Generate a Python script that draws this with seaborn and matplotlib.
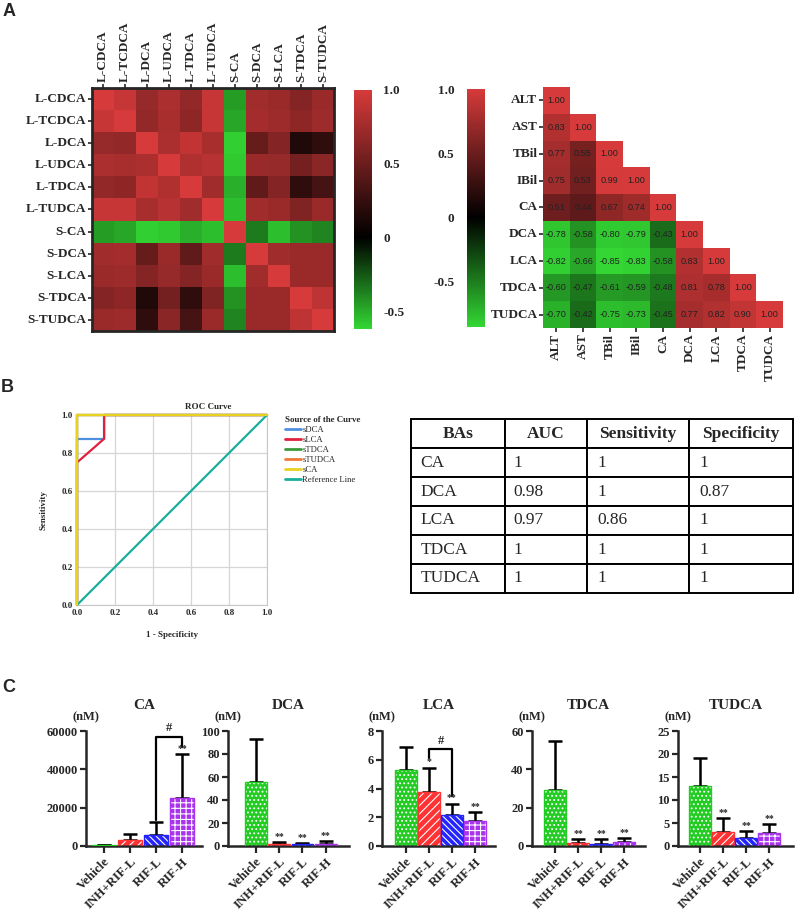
import numpy as np
import pandas as pd
import matplotlib
matplotlib.use("Agg")
import matplotlib.pyplot as plt
import seaborn as sns
from matplotlib.colors import LinearSegmentedColormap

# ---------------- data ----------------
# panel A left: liver (L-) / serum (S-) bile acid correlations
ba_labels = ["L-CDCA", "L-TCDCA", "L-DCA", "L-UDCA", "L-TDCA", "L-TUDCA",
             "S-CA", "S-DCA", "S-LCA", "S-TDCA", "S-TUDCA"]
ba_corr = [
    [1.00, 0.93, 0.70, 0.80, 0.68, 0.92, -0.45, 0.75, 0.72, 0.62, 0.72],
    [0.93, 1.00, 0.68, 0.78, 0.66, 0.93, -0.48, 0.76, 0.73, 0.66, 0.74],
    [0.70, 0.68, 1.00, 0.80, 0.90, 0.78, -0.60, 0.48, 0.62, 0.15, 0.22],
    [0.80, 0.78, 0.80, 1.00, 0.82, 0.85, -0.58, 0.72, 0.70, 0.55, 0.65],
    [0.68, 0.66, 0.90, 0.82, 1.00, 0.75, -0.50, 0.45, 0.62, 0.22, 0.32],
    [0.92, 0.93, 0.78, 0.85, 0.75, 1.00, -0.55, 0.75, 0.72, 0.60, 0.72],
    [-0.45, -0.48, -0.60, -0.58, -0.50, -0.55, 1.00, -0.35, -0.55, -0.42, -0.38],
    [0.75, 0.76, 0.48, 0.72, 0.45, 0.75, -0.35, 1.00, 0.75, 0.72, 0.72],
    [0.72, 0.73, 0.62, 0.70, 0.62, 0.72, -0.55, 0.75, 1.00, 0.72, 0.72],
    [0.62, 0.66, 0.15, 0.55, 0.22, 0.60, -0.42, 0.72, 0.72, 1.00, 0.88],
    [0.72, 0.74, 0.22, 0.65, 0.32, 0.72, -0.38, 0.72, 0.72, 0.88, 1.00],
]

# panel A right: clinical markers vs serum bile acids (lower triangle)
clin_labels = ["ALT", "AST", "TBil", "IBil", "CA", "DCA", "LCA", "TDCA", "TUDCA"]
clin_lower = [
    [1.00],
    [0.83, 1.00],
    [0.77, 0.55, 1.00],
    [0.75, 0.53, 0.99, 1.00],
    [0.51, 0.44, 0.67, 0.74, 1.00],
    [-0.78, -0.58, -0.80, -0.79, -0.43, 1.00],
    [-0.82, -0.66, -0.85, -0.83, -0.58, 0.83, 1.00],
    [-0.60, -0.47, -0.61, -0.59, -0.48, 0.81, 0.78, 1.00],
    [-0.70, -0.42, -0.75, -0.73, -0.45, 0.77, 0.82, 0.90, 1.00],
]

# panel B: ROC curves
roc_names = ["sDCA", "sLCA", "sTDCA", "sTUDCA", "sCA", "Reference Line"]
roc_fpr = [[0, 0, 0.143, 0.143, 1],
           [0, 0, 0.143, 0.143, 1],
           [0, 0, 1],
           [0, 0, 1],
           [0, 0, 1],
           [0, 1]]
roc_tpr = [[0, 0.875, 0.875, 1, 1],
           [0, 0.75, 0.875, 1, 1],
           [0, 1, 1],
           [0, 1, 1],
           [0, 1, 1],
           [0, 1]]
roc_colors = ["#4f8fe0", "#e0203c", "#3a9a3a", "#f07838", "#e8d21d", "#1aae9e"]

table_cols = ["BAs", "AUC", "Sensitivity", "Specificity"]
table_bas = ["CA", "DCA", "LCA", "TDCA", "TUDCA"]
table_auc = ["1", "0.98", "0.97", "1", "1"]
table_sens = ["1", "1", "0.86", "1", "1"]
table_spec = ["1", "0.87", "1", "1", "1"]

# panel C: serum bile acid levels (nM), mean and SD
groups = ["Vehicle", "INH+RIF-L", "RIF-L", "RIF-H"]
bar_titles = ["CA", "DCA", "LCA", "TDCA", "TUDCA"]
ca_mean = [400, 3200, 5700, 25200]
ca_sd = [300, 3100, 7000, 22800]
dca_mean = [56, 1.5, 1.5, 1.8]
dca_sd = [37, 1.7, 1.3, 2.7]
lca_mean = [5.3, 3.75, 2.15, 1.75]
lca_sd = [1.6, 1.7, 0.8, 0.6]
tdca_mean = [29, 1.8, 1.2, 2.2]
tdca_sd = [26, 2.0, 2.3, 2.0]
tudca_mean = [13, 3.1, 1.8, 2.8]
tudca_sd = [6.2, 3.0, 1.4, 1.9]
ca_sig = ["", "", "", "**"]
dca_sig = ["", "**", "**", "**"]
lca_sig = ["", "*", "**", "**"]
tdca_sig = ["", "**", "**", "**"]
tudca_sig = ["", "**", "**", "**"]
y_max = [60000, 100, 8, 60, 25]
y_step = [20000, 20, 2, 20, 5]
# (left group, right group, left leg end, bracket top, right leg end)
ca_bracket = (2, 3, 13800, 57000, 51500)
lca_bracket = (1, 2, 6.1, 6.75, 3.5)

# ---------------- style ----------------
sns.set_style("ticks")
plt.rcParams["font.family"] = ["Liberation Serif", "DejaVu Serif"]
plt.rcParams["hatch.linewidth"] = 0.8

W, H = 796, 911
fig = plt.figure(figsize=(W / 100, H / 100), dpi=100)


def rect(x0, x1, y0, y1):
    return [x0 / W, 1 - y1 / H, (x1 - x0) / W, (y1 - y0) / H]


def rg_cmap(vmin, vmax):
    p = -vmin / (vmax - vmin)
    return LinearSegmentedColormap.from_list(
        "gbr", [(0, "#33d633"), (p, "#000000"), (1, "#d63a3a")])


bold = dict(fontweight="bold")

# ---------------- A left ----------------
ax = fig.add_axes(rect(92, 334, 88, 331))
cax = fig.add_axes(rect(354, 372, 90, 329))
vmin1 = -0.62
sns.heatmap(pd.DataFrame(ba_corr, index=ba_labels, columns=ba_labels), ax=ax,
            cmap=rg_cmap(vmin1, 1.0), vmin=vmin1, vmax=1.0, cbar_ax=cax)
ax.xaxis.tick_top()
ax.set_xticklabels(ba_labels, rotation=90, fontsize=9.5, **bold)
ax.set_yticklabels(ba_labels, rotation=0, fontsize=9.5, **bold)
ax.tick_params(length=3, width=1.2, pad=1)
for s in ax.spines.values():
    s.set_visible(True)
    s.set_linewidth(2)
cb = ax.collections[0].colorbar
cb.outline.set_visible(False)
cb.set_ticks([1.0, 0.5, 0, -0.5])
cb.set_ticklabels(["1.0", "0.5", "0", "-0.5"], fontsize=9.5, fontweight="bold")
cax.tick_params(direction="in", color="white", length=3, width=1.5, pad=8)

# ---------------- A right ----------------
n = len(clin_labels)
clin = np.zeros((n, n))
for i, row in enumerate(clin_lower):
    for j, v in enumerate(row):
        clin[i, j] = v
        clin[j, i] = v
mask = np.triu(np.ones((n, n), dtype=bool), k=1)
ax2 = fig.add_axes(rect(543, 783, 87, 328))
cax2 = fig.add_axes(rect(467, 485, 89, 327))
vmin2 = -0.85
sns.heatmap(pd.DataFrame(clin, index=clin_labels, columns=clin_labels), ax=ax2,
            mask=mask, cmap=rg_cmap(vmin2, 1.0), vmin=vmin2, vmax=1.0,
            annot=True, fmt=".2f", cbar_ax=cax2,
            annot_kws={"fontsize": 6.6, "color": "#222222", "family": "Liberation Sans"})
ax2.set_xticklabels(clin_labels, rotation=90, fontsize=9.5, **bold)
ax2.set_yticklabels(clin_labels, rotation=0, fontsize=9.5, **bold)
ax2.tick_params(length=3, width=1.2, pad=1)
cb2 = ax2.collections[0].colorbar
cb2.outline.set_visible(False)
cb2.set_ticks([1.0, 0.5, 0, -0.5])
cb2.set_ticklabels(["1.0", "0.5", "0", "-0.5"], fontsize=9.5, fontweight="bold")
cax2.yaxis.set_ticks_position("left")
cax2.yaxis.set_label_position("left")
cax2.tick_params(direction="in", color="white", length=3, width=1.5, pad=9)

# ---------------- B: ROC ----------------
ax3 = fig.add_axes(rect(77, 267, 415, 605))
ax3.grid(True, color="#d6d6d6", lw=0.9)
for k in [0, 1, 2, 3, 5, 4]:
    sns.lineplot(x=roc_fpr[k], y=roc_tpr[k], ax=ax3, color=roc_colors[k],
                 sort=False, estimator=None, lw=1.6, label=roc_names[k])
    ax3.lines[-1].set_clip_on(False)
    ax3.lines[-1].set_zorder(3 + (k == 4))
ax3.set_xlim(0, 1)
ax3.set_ylim(0, 1)
ax3.set_xticks(np.arange(0, 1.01, 0.2))
ax3.set_yticks(np.arange(0, 1.01, 0.2))
ax3.set_xticklabels([f"{t:.1f}" for t in ax3.get_xticks()], fontsize=6.5, **bold)
ax3.set_yticklabels([f"{t:.1f}" for t in ax3.get_yticks()], fontsize=6.5, **bold)
ax3.tick_params(length=0, pad=3)
for s in ax3.spines.values():
    s.set_color("#c8c8c8")
    s.set_linewidth(0.8)
    s.set_zorder(1)
ax3.set_xlabel("1 - Specificity", fontsize=6.5, labelpad=10, **bold)
ax3.set_ylabel("Sensitivity", fontsize=6.5, labelpad=10, **bold)
fig.text(208 / W, 1 - 407 / H, "ROC Curve", fontsize=6.5, ha="center", va="center", **bold)
handles, labels = ax3.get_legend_handles_labels()
order = [labels.index(nm) for nm in roc_names]
ax3.get_legend().remove()
leg = fig.legend([handles[i] for i in order], [labels[i] for i in order],
                 loc="upper left", bbox_to_anchor=(285 / W, 1 - 416 / H),
                 frameon=False, fontsize=6.2, title="Source of the Curve",
                 title_fontproperties={"size": 6.4, "weight": "bold"},
                 handlelength=1.9, handletextpad=0.1, labelspacing=0.22,
                 borderpad=0, borderaxespad=0)
for hl in leg.get_lines():
    hl.set_linewidth(2.0)
leg._legend_box.align = "left"

# ---------------- B: table ----------------
ax4 = fig.add_axes(rect(411, 793, 419, 593))
ax4.axis("off")
cell_text = [list(r) for r in zip(table_bas, table_auc, table_sens, table_spec)]
tab = ax4.table(cellText=cell_text, colLabels=table_cols, cellLoc="left",
                colWidths=[94, 82, 102, 104], bbox=[0, 0, 1, 1])
tab.auto_set_font_size(False)
tab.set_fontsize(12.5)
for (r, c), cell in tab.get_celld().items():
    cell.set_linewidth(1.4)
    if r == 0:
        cell.set_text_props(fontweight="bold", ha="center")
        cell._loc = "center"

# ---------------- C: bar charts ----------------
bar_colors = ["#22cc22", "#ff3333", "#2424ff", "#aa33ee"]
bar_hatch = ["....", "////", "\\\\\\\\\\", "+++"]
chart_x = [(86, 202), (228, 349), (382, 495), (532, 645), (678, 793)]
chart_xlim = [(-0.7, 3.77), (-1.2, 4.0), (-1.04, 3.87), (-1.0, 3.91), (-0.96, 4.04)]
means = [ca_mean, dca_mean, lca_mean, tdca_mean, tudca_mean]
sds = [ca_sd, dca_sd, lca_sd, tdca_sd, tudca_sd]
sigs = [ca_sig, dca_sig, lca_sig, tdca_sig, tudca_sig]
brackets = [ca_bracket, None, lca_bracket, None, None]

for c in range(5):
    axb = fig.add_axes(rect(chart_x[c][0], chart_x[c][1], 731, 846))
    pos = np.arange(len(groups))
    axb.errorbar(pos, means[c], yerr=[np.zeros(4), sds[c]], fmt="none",
                 ecolor="black", elinewidth=1.8, capsize=5, capthick=1.8, zorder=1)
    sns.barplot(x=groups, y=means[c], hue=groups, palette=bar_colors, legend=False,
                ax=axb, width=0.94, saturation=1, errorbar=None, zorder=2)
    for p, h in zip(axb.patches, bar_hatch):
        p.set_edgecolor("white")
        p.set_hatch(h)
        p.set_linewidth(0)
    axb.bar(pos, means[c], width=0.94, fill=False, edgecolor=bar_colors,
            linewidth=1.0, zorder=3)
    top = y_max[c]
    for i, s in enumerate(sigs[c]):
        if s:
            axb.text(pos[i], means[c][i] + sds[c][i] + top * 0.01, s,
                     ha="center", va="bottom", fontsize=7, **bold)
    if brackets[c] is not None:
        a, b, y_a, y_t, y_b = brackets[c]
        axb.plot([a, a, b, b], [y_a, y_t, y_t, y_b], color="black", lw=1.6,
                 clip_on=False)
        axb.text((a + b) / 2, y_t + top * 0.02, "#", ha="center", va="bottom",
                 fontsize=9, **bold)
    axb.set_xlim(*chart_xlim[c])
    axb.set_ylim(0, top)
    axb.set_yticks(np.arange(0, top + 1e-9, y_step[c]))
    axb.set_yticklabels([f"{t:g}" for t in axb.get_yticks()], fontsize=9, **bold)
    axb.set_xticks(pos)
    axb.set_xticklabels(groups, rotation=45, ha="right", rotation_mode="anchor",
                        fontsize=9.3, **bold)
    axb.set_xlabel("")
    axb.set_ylabel("")
    axb.tick_params(axis="y", length=4, width=1.6, pad=2)
    axb.tick_params(axis="x", length=5, width=1.6, pad=2)
    sns.despine(ax=axb)
    for s in ["left", "bottom"]:
        axb.spines[s].set_linewidth(1.8)
    axb.text(0, 1.07, "(nM)", transform=axb.transAxes, ha="center", va="bottom",
             fontsize=9, **bold)
    axb.text(0.5, 1.22, bar_titles[c], transform=axb.transAxes, ha="center",
             va="center", fontsize=11, **bold)

# panel letters
for letter, (lx, ly) in zip("ABC", [(3, 11), (1, 388), (2, 688)]):
    fig.text(lx / W, 1 - ly / H, letter, fontsize=13, fontweight="bold",
             family="Liberation Sans", va="center", ha="left")

fig.savefig("out.png", dpi=100)
